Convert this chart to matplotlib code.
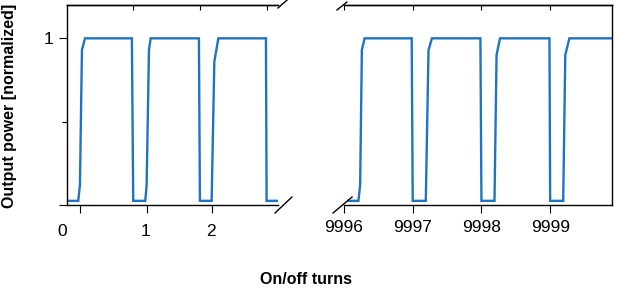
import matplotlib
matplotlib.use("Agg")
import matplotlib.pyplot as plt
import matplotlib.transforms as mtransforms
from matplotlib import font_manager

# narrow font if there is one, otherwise Liberation Sans
try:
    font_manager.findfont('Liberation Sans Narrow', fallback_to_default=False)
    fam, scale = 'Liberation Sans Narrow', 1.15
except ValueError:
    fam, scale = 'Liberation Sans', 1.0
plt.rcParams['font.family'] = [fam, 'DejaVu Sans']

# waveform corners, left part (first turns)
left_x = [0.04, 0.19, 0.215, 0.245, 0.29, 0.99, 1.01, 1.19, 1.21, 1.245, 1.27,
          1.99, 2.005, 2.18, 2.22, 2.28, 2.99, 3.0, 3.17]
left_y = [0.025, 0.025, 0.12, 0.93, 1.0, 1.0, 0.025, 0.025, 0.12, 0.93, 1.0,
          1.0, 0.025, 0.025, 0.86, 1.0, 1.0, 0.025, 0.025]

# waveform corners, right part (last turns)
right_x = [9996.06, 9996.21, 9996.235, 9996.26, 9996.30, 9996.985, 9997.0,
           9997.19, 9997.23, 9997.28, 9997.985, 9998.0, 9998.19, 9998.22,
           9998.27, 9998.99, 9999.0, 9999.19, 9999.22, 9999.28, 9999.9]
right_y = [0.025, 0.025, 0.12, 0.93, 1.0, 1.0, 0.025,
           0.025, 0.93, 1.0, 1.0, 0.025, 0.025, 0.9,
           1.0, 1.0, 0.025, 0.025, 0.9, 1.0, 1.0]

left_bottom_ticks = [0.216, 1.22, 2.19]
left_top_ticks = [1, 2, 3]
left_labels = ['0', '1', '2']
left_label_pos = [-0.05, 1.19, 2.17]
right_ticks = [9996, 9997, 9998, 9999]
right_labels = ['9996', '9997', '9998', '9999']

blue = '#1f74c2'
fs = 12.5 * scale
lfs = 11.5 * scale

fig = plt.figure(figsize=(6.17, 2.93), dpi=100)
ax1 = fig.add_axes([67 / 617, 88 / 293, 211 / 617, 200 / 293])
ax2 = fig.add_axes([344 / 617, 88 / 293, 268 / 617, 200 / 293])

ax1.plot(left_x, left_y, color=blue, lw=1.7, solid_joinstyle='miter')
ax2.plot(right_x, right_y, color=blue, lw=1.7, solid_joinstyle='miter')

ax1.set_xlim(0.022, 3.17)
ax2.set_xlim(9996, 9999.9)
for ax in (ax1, ax2):
    ax.set_ylim(0, 1.2)
    for s in ax.spines.values():
        s.set_linewidth(1.0)

ax1.spines['right'].set_visible(False)
ax2.spines['left'].set_visible(False)

# y axis only on the left panel
ax1.set_yticks([0, 1])
ax1.set_yticklabels(['', '1'])
ax1.set_yticks([0.5], minor=True)
ax1.tick_params(axis='y', which='major', direction='out', length=5.8, width=0.8,
                pad=4, labelsize=fs)
ax1.tick_params(axis='y', which='minor', direction='out', length=3.6, width=0.8)
ax2.set_yticks([])

# bottom ticks
ax1.set_xticks(left_bottom_ticks)
ax1.set_xticklabels([])
ax1.tick_params(axis='x', direction='out', length=5.8, width=0.8)
trans = mtransforms.blended_transform_factory(ax1.transData, ax1.transAxes)
for p, t in zip(left_label_pos, left_labels):
    ax1.text(p, -0.095, t, transform=trans, ha='center', va='top', fontsize=fs)

ax2.set_xticks(right_ticks)
ax2.set_xticklabels(right_labels)
ax2.tick_params(axis='x', direction='out', length=5.8, width=0.8, pad=5,
                labelsize=fs)

# top ticks
for ax, tk in ((ax1, left_top_ticks), (ax2, right_ticks)):
    sec = ax.secondary_xaxis('top')
    sec.set_xticks(tk)
    sec.set_xticklabels([])
    sec.tick_params(direction='in', length=3.4, width=0.8)
    sec.spines['top'].set_linewidth(1.0)

# axis break marks
kw = dict(color='k', lw=1.0, clip_on=False)
ax1.plot([1.0, 1.043], [0.985, 1.025], transform=ax1.transAxes, **kw)
ax1.plot([0.986, 1.066], [-0.04, 0.04], transform=ax1.transAxes, **kw)
ax2.plot([-0.026, 0.011], [0.975, 1.015], transform=ax2.transAxes, **kw)
ax2.plot([-0.041, 0.03], [-0.04, 0.04], transform=ax2.transAxes, **kw)

fig.text(10 / 617, 1 - 106 / 293, 'Output power [normalized]', rotation=90,
         ha='center', va='center', fontsize=lfs, fontweight='bold')
fig.text(306 / 617, 1 - 280 / 293, 'On/off turns', ha='center', va='center',
         fontsize=lfs, fontweight='bold')

fig.savefig('out.png', dpi=100)
